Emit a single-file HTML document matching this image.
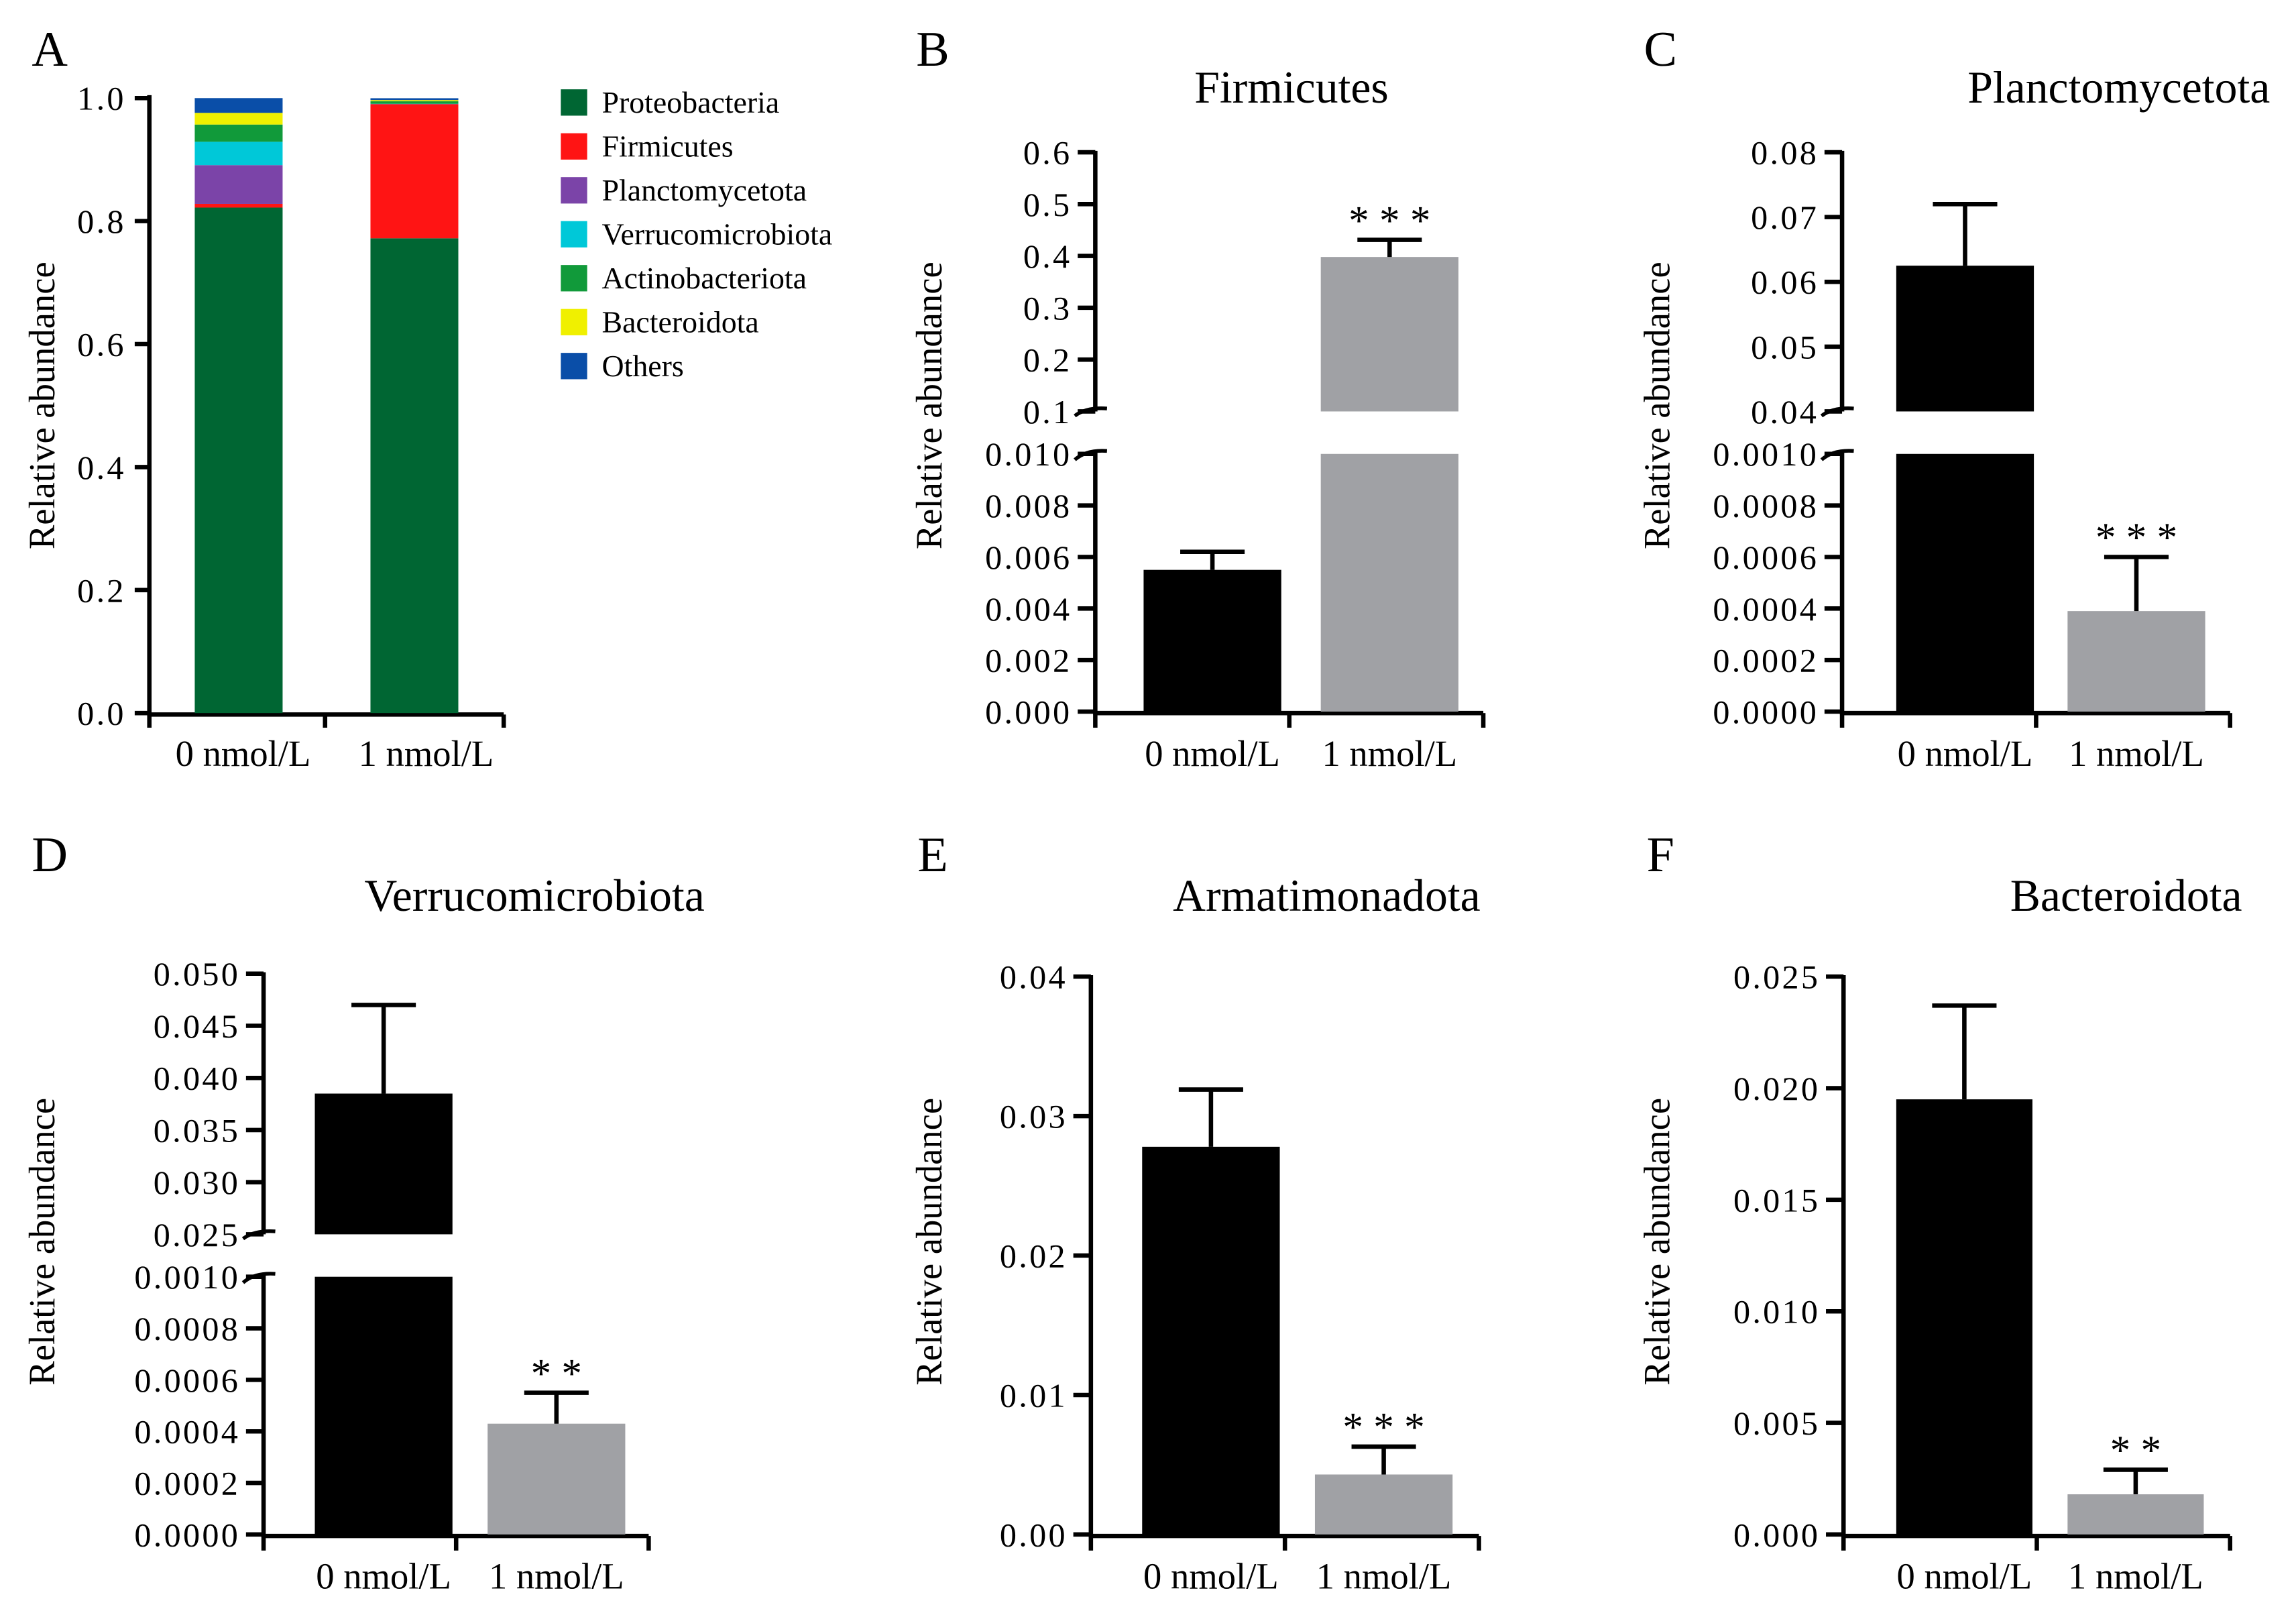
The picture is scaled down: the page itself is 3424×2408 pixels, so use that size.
<!DOCTYPE html>
<html><head><meta charset="utf-8"><style>
html,body{margin:0;padding:0;background:#fff;}
svg{display:block;}
text{font-family:"Liberation Serif",serif;fill:#000;}
</style></head><body>
<svg id="fig" width="3424" height="2408" viewBox="0 0 1568 1103" preserveAspectRatio="none" xmlns="http://www.w3.org/2000/svg"></svg>
<script>
// ---- Panel A data ----
const stackCategories = ["0 nmol/L", "1 nmol/L"];
const phyla = ["Proteobacteria","Firmicutes","Planctomycetota","Verrucomicrobiota","Actinobacteriota","Bacteroidota","Others"];
const phylaColors = ["#006633","#ff1414","#7b44a8","#00c8d8","#119a3a","#f0f000","#0a4ea8"];
const stack0 = [0.822, 0.006, 0.063, 0.038, 0.028, 0.019, 0.024];
const stack1 = [0.772, 0.218, 0.0004, 0.0004, 0.004, 0.002, 0.003];
const stackTicks = ["0.0","0.2","0.4","0.6","0.8","1.0"];
// ---- Bar panel data ----
const groups = ["0 nmol/L", "1 nmol/L"];
const firmMeans = [0.0055, 0.398];
const firmErrs = [0.0007, 0.033];
const plancMeans = [0.0625, 0.00039];
const plancErrs = [0.0095, 0.00021];
const verruMeans = [0.0385, 0.00043];
const verruErrs = [0.0085, 0.00012];
const armaMeans = [0.0278, 0.0043];
const armaErrs = [0.0041, 0.0020];
const bactMeans = [0.0195, 0.0018];
const bactErrs = [0.0042, 0.0011];
const firmLowTicks = ["0.000","0.002","0.004","0.006","0.008","0.010"];
const firmHighTicks = ["0.1","0.2","0.3","0.4","0.5","0.6"];
const smallLowTicks = ["0.0000","0.0002","0.0004","0.0006","0.0008","0.0010"];
const plancHighTicks = ["0.04","0.05","0.06","0.07","0.08"];
const verruHighTicks = ["0.025","0.030","0.035","0.040","0.045","0.050"];
const armaTicks = ["0.00","0.01","0.02","0.03","0.04"];
const bactTicks = ["0.000","0.005","0.010","0.015","0.020","0.025"];
const firmStars = ["", "***"];
const plancStars = ["", "***"];
const verruStars = ["", "**"];
const armaStars = ["", "***"];
const bactStars = ["", "**"];

const NS = "http://www.w3.org/2000/svg";
const svg = document.getElementById('fig');
function el(tag, attrs, parent, txt){
  const e = document.createElementNS(NS, tag);
  for (const k in attrs) e.setAttribute(k, attrs[k]);
  if (txt !== undefined) e.textContent = txt;
  (parent || svg).appendChild(e);
  return e;
}
function line(x1,y1,x2,y2,p,name){
  const l = el('line',{x1,y1,x2,y2,stroke:'#000','stroke-width':3},p);
  
  
  return l;
}
function text(x,y,s,size,anchor,p,name,ls){
  const t = el('text',{x,y,'font-size':size,'text-anchor':anchor||'middle'},p,s);
  if (ls) t.setAttribute('letter-spacing', ls);
  
  
  return t;
}
function group(name){
  const g = el('g',{});
  
  
  return g;
}

// ---- Panel A ----
(function(){
  const g = group('panel-a');
  text(34,45,'A',34,'middle',g,'panel-letter-a');
  const ax = 102, y0 = 487, y1 = 67;
  const ys = v => y0 - (y0 - y1) * v;
  line(ax, y1-2, ax, 489, g, 'y-axis');
  line(ax, 488, 344, 488, g, 'x-axis');
  [ax, 222, 344].forEach(x => line(x, 488, x, 497, g, 'x-tick'));
  stackTicks.forEach(t => {
    const y = ys(parseFloat(t));
    line(ax-10, y, ax, y, g, 'y-tick');
    text(ax-16, y+8, t, 23, 'end', g, 'y-tick-label', 1.5);
  });
  const ylab = text(0,0,'Relative abundance',25,'middle',g,'y-axis-title');
  ylab.setAttribute('transform','translate(37,277) rotate(-90)');
  const stacks = [stack0, stack1];
  const bx = [133, 253];
  const lx = [166, 291];
  stacks.forEach((vals, i) => {
    let cum = 0;
    vals.forEach((v, j) => {
      const r = el('rect',{x:bx[i], y:ys(cum+v), width:60, height:Math.max(0, ys(cum)-ys(cum+v)), fill:phylaColors[j]}, g);
      
      
      cum += v;
    });
    text(lx[i], 523, stackCategories[i], 25, 'middle', g, 'x-tick-label');
  });
  phyla.forEach((p, j) => {
    const y = 61 + j*30;
    const r = el('rect',{x:383, y:y, width:18, height:18, fill:phylaColors[j]}, g);
    
    
    text(411, y+16, p, 21, 'start', g, 'legend-entry');
  });
})();

// ---- Bar panels ----
function barPanel(cfg){
  const g = group(cfg.name);
  text(cfg.letterX, cfg.letterY, cfg.letter, 34, 'middle', g, 'panel-letter');
  text(cfg.titleX, cfg.titleY, cfg.title, 31, 'middle', g, 'chart-title');
  const ylab = text(0,0,'Relative abundance',25,'middle',g,'y-axis-title');
  ylab.setAttribute('transform','translate('+cfg.ylabX+','+cfg.ylabY+') rotate(-90)');
  const ax = cfg.ax, segs = cfg.segs;
  const scale = v => {
    for (const s of segs){ if (v <= s.d1 + 1e-12) { const vv = Math.max(v, s.d0); return s.p0 - (s.p0 - s.p1)*(vv - s.d0)/(s.d1 - s.d0); } }
    const s = segs[segs.length-1]; return s.p0 - (s.p0 - s.p1)*(v - s.d0)/(s.d1 - s.d0);
  };
  segs.forEach((s, k) => {
    line(ax, s.p1 - 1, ax, s.p0 + (k===0 ? 2 : 0), g, 'y-axis');
    s.ticks.forEach(t => {
      const v = parseFloat(t), y = s.p0 - (s.p0 - s.p1)*(v - s.d0)/(s.d1 - s.d0);
      line(ax-12, y, ax, y, g, 'y-tick');
      text(ax-16, y+8, t, 23, 'end', g, 'y-tick-label', 1.5);
    });
  });
  if (segs.length > 1){
    const a = segs[0].p1, b = segs[1].p0;
    el('path',{d:`M${ax-14},${a+4} Q${ax-6},${a-3} ${ax+8},${a-2}`,fill:'none',stroke:'#000','stroke-width':2.5},g);
    el('path',{d:`M${ax-14},${b+3} Q${ax-6},${b-3} ${ax+8},${b-2}`,fill:'none',stroke:'#000','stroke-width':2.5},g);
  }
  const yb = segs[0].p0;
  line(ax, yb+1, cfg.axEnd, yb+1, g, 'x-axis');
  [ax, (ax+cfg.axEnd)/2, cfg.axEnd].forEach(x => line(x, yb+1, x, yb+11, g, 'x-tick'));
  const fills = ['#000000', '#a0a1a5'];
  cfg.means.forEach((m, i) => {
    const x = cfg.bx[i], w = cfg.bw;
    segs.forEach(s => {
      if (m > s.d0){
        const top = scale(Math.min(m, s.d1)), bot = s.p0;
        const r = el('rect',{x, y:top, width:w, height:bot-top, fill:fills[i]}, g);
        
        
      }
    });
    const yt = scale(m), ye = scale(m + cfg.errs[i]), cx = x + w/2;
    line(cx, yt, cx, ye, g, 'error-bar');
    line(cx-22, ye, cx+22, ye, g, 'error-cap');
    if (cfg.stars[i]) {
      text(cx, ye - 4, cfg.stars[i].split('').join(' '), 28, 'middle', g, 'significance-stars');
    }
    text(cx, yb + 37, groups[i], 25, 'middle', g, 'x-tick-label');
  });
}

barPanel({name:'panel-b-firmicutes', letter:'B', letterX:637, letterY:45, title:'Firmicutes', titleX:882, titleY:70, ylabX:643, ylabY:277,
  ax:748, axEnd:1013, bx:[781,902], bw:94, means:firmMeans, errs:firmErrs, stars:firmStars,
  segs:[{d0:0,d1:0.010,p0:486,p1:310,ticks:firmLowTicks},{d0:0.1,d1:0.6,p0:281,p1:104,ticks:firmHighTicks}]});
barPanel({name:'panel-c-planctomycetota', letter:'C', letterX:1134, letterY:45, title:'Planctomycetota', titleX:1447, titleY:70, ylabX:1140, ylabY:277,
  ax:1258, axEnd:1523, bx:[1295,1412], bw:94, means:plancMeans, errs:plancErrs, stars:plancStars,
  segs:[{d0:0,d1:0.0010,p0:486,p1:310,ticks:smallLowTicks},{d0:0.04,d1:0.08,p0:281,p1:104,ticks:plancHighTicks}]});
barPanel({name:'panel-d-verrucomicrobiota', letter:'D', letterX:34, letterY:595, title:'Verrucomicrobiota', titleX:365, titleY:622, ylabX:37, ylabY:848,
  ax:180, axEnd:443, bx:[215,333], bw:94, means:verruMeans, errs:verruErrs, stars:verruStars,
  segs:[{d0:0,d1:0.0010,p0:1048,p1:872,ticks:smallLowTicks},{d0:0.025,d1:0.050,p0:843,p1:665,ticks:verruHighTicks}]});
barPanel({name:'panel-e-armatimonadota', letter:'E', letterX:637, letterY:595, title:'Armatimonadota', titleX:906, titleY:622, ylabX:643, ylabY:848,
  ax:745, axEnd:1010, bx:[780,898], bw:94, means:armaMeans, errs:armaErrs, stars:armaStars,
  segs:[{d0:0,d1:0.04,p0:1048,p1:667,ticks:armaTicks}]});
barPanel({name:'panel-f-bacteroidota', letter:'F', letterX:1134, letterY:595, title:'Bacteroidota', titleX:1452, titleY:622, ylabX:1140, ylabY:848,
  ax:1259, axEnd:1523, bx:[1295,1412], bw:93, means:bactMeans, errs:bactErrs, stars:bactStars,
  segs:[{d0:0,d1:0.025,p0:1048,p1:667,ticks:bactTicks}]});
</script>
</body></html>
